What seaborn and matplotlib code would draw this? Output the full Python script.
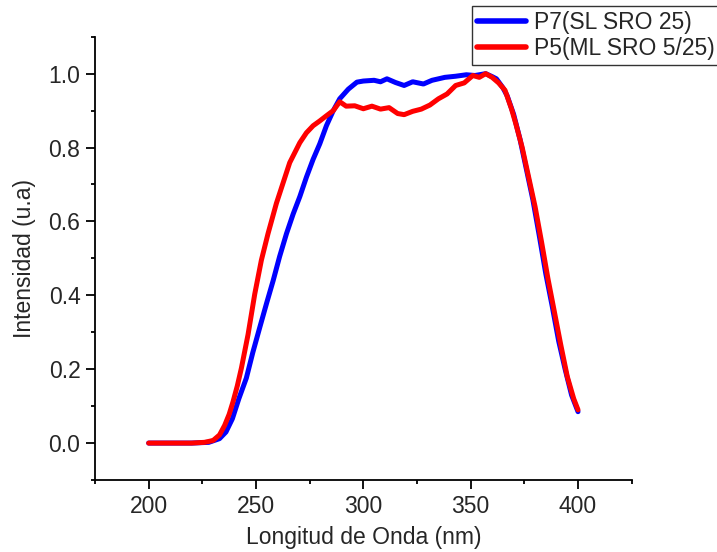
import pandas as pd
import matplotlib.pyplot as plt
import seaborn as sns

# -------------------------
# Data
# -------------------------
p7_nm = [200, 210, 220, 228, 233, 236, 239, 242, 245.5, 248.5, 251.7, 255, 258, 261,
         264.2, 267.3, 270.4, 273.5, 276.6, 279.7, 282.8, 286, 289, 293, 297, 300, 305,
         308, 311, 315, 319, 323, 328, 332, 338, 343, 348, 352, 357, 360, 362, 365, 367,
         370, 373, 376, 379, 382, 385, 388, 391, 394, 397, 400]
p7_int = [0.0, 0.0, 0.0, 0.002, 0.012, 0.03, 0.066, 0.12, 0.176, 0.245, 0.312, 0.38,
          0.44, 0.505, 0.567, 0.62, 0.667, 0.72, 0.768, 0.81, 0.859, 0.90, 0.932, 0.958,
          0.977, 0.98, 0.982, 0.978, 0.986, 0.976, 0.968, 0.978, 0.972, 0.982, 0.99,
          0.993, 0.997, 0.995, 1.0, 0.992, 0.986, 0.962, 0.94, 0.89, 0.822, 0.74, 0.658,
          0.56, 0.458, 0.37, 0.276, 0.20, 0.13, 0.085]

p5_nm = [200, 210, 220, 226, 230, 233, 235.4, 237.5, 239.3, 241.3, 243.2, 246.3, 249.4,
         252.5, 255.6, 259.5, 262.6, 265.7, 270.4, 273.5, 276.6, 279.7, 282.8, 286, 289,
         292, 296, 300, 304, 308, 312, 316, 319, 323, 327, 331, 335, 339, 343, 347, 351,
         354, 357, 360, 363, 366, 369, 371, 374, 377, 380, 383, 386, 389, 392, 395, 398,
         400]
p5_int = [0.0, 0.0, 0.0, 0.002, 0.007, 0.022, 0.048, 0.078, 0.112, 0.155, 0.203, 0.294,
          0.403, 0.495, 0.567, 0.649, 0.704, 0.759, 0.813, 0.84, 0.859, 0.872, 0.886,
          0.90, 0.924, 0.912, 0.913, 0.905, 0.912, 0.904, 0.908, 0.892, 0.889, 0.898,
          0.904, 0.915, 0.932, 0.945, 0.968, 0.975, 0.995, 0.99, 1.0, 0.99, 0.975, 0.955,
          0.905, 0.865, 0.80, 0.72, 0.64, 0.545, 0.445, 0.355, 0.265, 0.18, 0.12, 0.09]

labels = ["P7(SL SRO 25)", "P5(ML SRO 5/25)"]

df = pd.concat([
    pd.DataFrame({"nm": p7_nm, "intensidad": p7_int, "serie": labels[0]}),
    pd.DataFrame({"nm": p5_nm, "intensidad": p5_int, "serie": labels[1]}),
])

# -------------------------
# Plot
# -------------------------
sns.set_style("ticks")
plt.rcParams["font.family"] = ["Liberation Sans", "DejaVu Sans"]
fs = 16.5

fig = plt.figure(figsize=(7.17, 5.52), dpi=100)
ax = fig.add_axes([0.1325, 0.1304, 0.7485, 0.8031])

sns.lineplot(data=df, x="nm", y="intensidad", hue="serie",
             palette={labels[0]: "#0000ff", labels[1]: "#ff0000"},
             linewidth=3.6, ax=ax, sort=False)

ax.set_xlim(175, 425)
ax.set_ylim(-0.1, 1.1)
ax.set_xticks([200, 250, 300, 350, 400])
ax.set_xticks([175, 225, 275, 325, 375, 425], minor=True)
ax.set_yticks([0.0, 0.2, 0.4, 0.6, 0.8, 1.0])
ax.set_yticks([-0.1, 0.1, 0.3, 0.5, 0.7, 0.9, 1.1], minor=True)
ax.yaxis.set_major_formatter(plt.FormatStrFormatter("%.1f"))

ax.tick_params(axis="both", which="major", direction="out", length=6.5, width=1.3,
               labelsize=fs, color="black", pad=4)
ax.tick_params(axis="both", which="minor", direction="out", length=3, width=1.3,
               color="black")

for side in ["right", "top"]:
    ax.spines[side].set_visible(False)
for side in ["left", "bottom"]:
    ax.spines[side].set_linewidth(1.3)
    ax.spines[side].set_color("black")

ax.set_xlabel("Longitud de Onda (nm)", fontsize=fs, labelpad=6)
ax.set_ylabel("Intensidad (u.a)", fontsize=fs, labelpad=9)

leg = ax.legend(loc="upper left", bbox_to_anchor=(472 / 717, 1 - 6 / 552),
                bbox_transform=fig.transFigure, fontsize=fs, frameon=True,
                fancybox=False, shadow=False, handlelength=2.15, handletextpad=0.35,
                borderpad=0.2, labelspacing=0.15, borderaxespad=0)
leg.get_frame().set_edgecolor("black")
leg.get_frame().set_linewidth(1.0)
for line in leg.get_lines():
    line.set_linewidth(4)

fig.savefig("out.png", dpi=100)
